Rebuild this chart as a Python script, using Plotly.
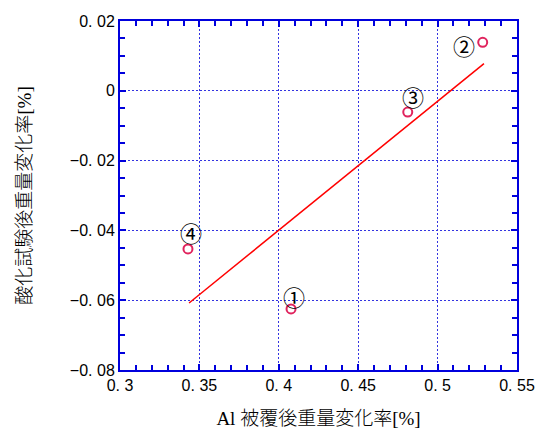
import plotly.graph_objects as go

# data
al_change = [0.3428, 0.4077, 0.4812, 0.5284]
ox_change = [-0.0453, -0.0625, -0.0061, 0.0139]
point_labels = ["④", "①", "③", "②"]
fit_x = [0.3435, 0.5292]
fit_y = [-0.0608, 0.0078]

x_ticks = [0.3, 0.35, 0.4, 0.45, 0.5, 0.55]
x_ticktext = ["0. 3", "0. 35", "0. 4", "0. 45", "0. 5", "0. 55"]
y_ticks = [-0.08, -0.06, -0.04, -0.02, 0, 0.02]
y_ticktext = ["−0. 08", "−0. 06", "−0. 04", "−0. 02", "0", "0. 02"]

blue = "#0000DD"
grid_blue = "#3333E0"

# label placement (pixel offsets from each point)
label_shift = {"④": (3, 17), "①": (3, 13), "③": (5, 16), "②": (-19, -3)}

fig = go.Figure()
fig.add_trace(go.Scatter(x=fit_x, y=fit_y, mode="lines",
                         line=dict(color="#FF0000", width=1.5), showlegend=False))
fig.add_trace(go.Scatter(x=al_change, y=ox_change, mode="markers",
                         marker=dict(symbol="circle-open", size=9, color="#E0245E",
                                     line=dict(width=2, color="#E0245E")),
                         showlegend=False))

for x, y, t in zip(al_change, ox_change, point_labels):
    dx, dy = label_shift[t]
    fig.add_annotation(x=x, y=y, text=t, showarrow=False, xref="x", yref="y",
                       xshift=dx, yshift=dy,
                       font=dict(size=22, color="black", family="Noto Sans CJK JP"))

axis_common = dict(
    showline=True, linecolor=blue, linewidth=2, mirror="ticks",
    ticks="inside", tickcolor=blue, ticklen=6, tickwidth=1.5,
    showgrid=True, gridcolor=grid_blue, griddash="2px,2px", gridwidth=1,
    zeroline=False, automargin=False,
    tickfont=dict(family="Liberation Sans, Arial", size=16, color="black"),
)

fig.update_xaxes(range=[0.3, 0.55], tickvals=x_ticks, ticktext=x_ticktext,
                 minor=dict(dtick=0.01, ticks="inside", ticklen=5, tickcolor=blue, tickwidth=1.5, showgrid=False),
                 title=dict(text="Al 被覆後重量変化率[%]", standoff=18,
                            font=dict(family="Liberation Serif, Noto Sans CJK JP", size=19,
                                      color="black", weight=300)),
                 **axis_common)
fig.update_yaxes(range=[-0.08, 0.02], tickvals=y_ticks, ticktext=y_ticktext,
                 minor=dict(dtick=0.005, ticks="inside", ticklen=5, tickcolor=blue, tickwidth=1.5, showgrid=False),
                 title=dict(text="酸化試験後重量変化率[%]", standoff=33,
                            font=dict(family="Liberation Serif, Noto Sans CJK JP", size=19,
                                      color="black", weight=300)),
                 **axis_common)

fig.update_layout(width=537, height=430, margin=dict(l=120, r=20, t=21, b=60),
                  plot_bgcolor="white", paper_bgcolor="white")

fig.write_html("out.html", config={"displayModeBar": False},
               post_script="document.body.style.margin='0';document.body.style.overflow='hidden';")
